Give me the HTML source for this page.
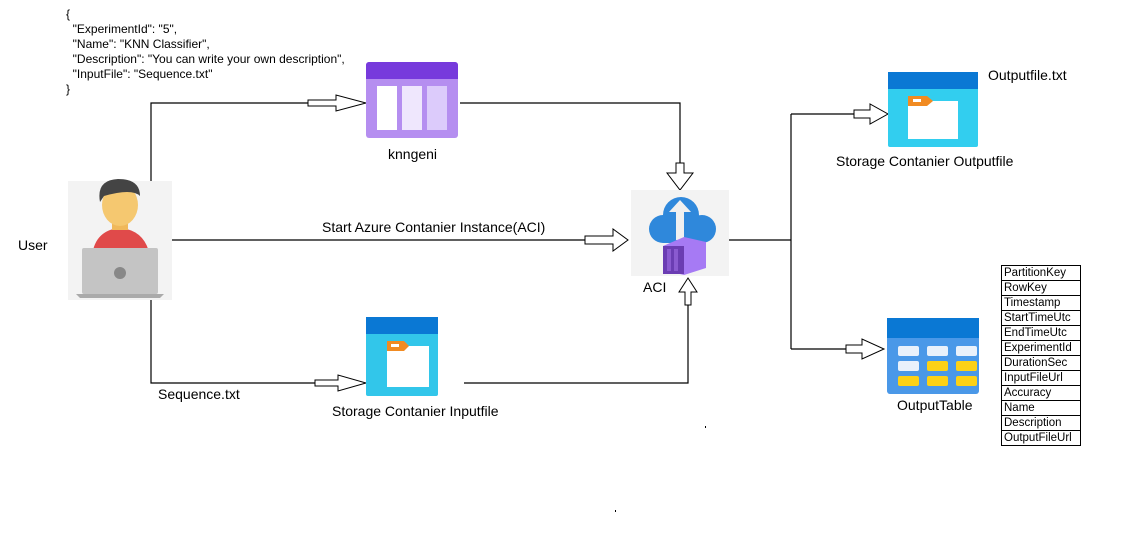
<!DOCTYPE html>
<html><head><meta charset="utf-8"><style>
body{margin:0;width:1130px;height:539px;background:#fff;position:relative;overflow:hidden;font-family:"Liberation Sans",sans-serif}
.t{position:absolute;white-space:nowrap;color:#000}
.json{font-size:12px;line-height:15px;left:66px;top:7px}
.lbl{font-size:14px}
table{position:absolute;left:1001px;top:265px;border-collapse:collapse;font-size:11.5px}
td{border:1px solid #000;height:14px;padding:0 2px;width:74px;line-height:14px}
</style></head><body>
<div class="t json">{<br>&nbsp;&nbsp;"ExperimentId": "5",<br>&nbsp;&nbsp;"Name": "KNN Classifier",<br>&nbsp;&nbsp;"Description": "You can write your own description",<br>&nbsp;&nbsp;"InputFile": "Sequence.txt"<br>}</div>
<svg width="1130" height="539" style="position:absolute;left:0;top:0">
<g stroke="#000" stroke-width="1.2" fill="none">
<polyline points="151,181 151,103 308,103"/>
<polyline points="460,103 680,103 680,163"/>
<line x1="172" y1="240" x2="585" y2="240"/>
<polyline points="151,300 151,383 315,383"/>
<polyline points="464,383 688,383 688,305"/>
<line x1="729" y1="240" x2="791" y2="240"/>
<line x1="791" y1="114" x2="791" y2="349"/>
<line x1="791" y1="114" x2="854" y2="114"/>
<line x1="791" y1="349" x2="846" y2="349"/>
</g>
<g stroke="#000" stroke-width="1" fill="#fff">
<polygon points="308,100 336,100 336,95 366,103 336,111 336,106 308,106"/>
<polygon points="585,236 613,236 613,229 628,240 613,251 613,244 585,244"/>
<polygon points="315,380 338,380 338,375 366,383 338,391 338,386 315,386"/>
<polygon points="854,110 870,110 870,104 888,114 870,124 870,118 854,118"/>
<polygon points="846,345 862,345 862,339 884,349 862,359 862,353 846,353"/>
<polygon points="676,163 684,163 684,173 693,173 680,190 667,173 676,173"/>
<polygon points="685,305 691,305 691,292 697,292 688,278 679,292 685,292"/>
</g>
<!-- user -->
<rect x="68" y="181" width="104" height="119" fill="#f3f3f3"/>
<path d="M92,256 Q95,230 120,228 Q145,230 150,256Z" fill="#e04a4a"/>
<rect x="112" y="212" width="16" height="18" fill="#f0b85a"/>
<ellipse cx="120" cy="205" rx="18" ry="21" fill="#f5c870"/>
<path d="M100,202 Q96,180 118,179 Q140,179 140,196 Q132,188 104,196Z" fill="#444"/>
<rect x="82" y="248" width="76" height="46" rx="2" fill="#c4c4c4"/>
<polygon points="76,294 164,294 160,298 80,298" fill="#aaa"/>
<circle cx="120" cy="273" r="6" fill="#888"/>
<!-- knngeni -->
<rect x="366" y="62" width="92" height="76" rx="3" fill="#b58ef0"/>
<path d="M366,79 V65 a3,3 0 0 1 3,-3 h86 a3,3 0 0 1 3,3 V79Z" fill="#773adc"/>
<rect x="377" y="86" width="20" height="44" fill="#fff"/>
<rect x="402" y="86" width="20" height="44" fill="#efe7fd"/>
<rect x="427" y="86" width="20" height="44" fill="#dccbfb"/>
<!-- ACI -->
<rect x="631" y="190" width="98" height="86" fill="#f3f3f3"/>
<g fill="#2f88db"><circle cx="681" cy="215" r="18"/><circle cx="663" cy="229" r="14"/><circle cx="702" cy="229" r="14"/><rect x="663" y="222" width="40" height="21"/></g>
<polygon points="676,240 676,212 669,212 680,200 691,212 684,212 684,240" fill="#f0f0f0"/>
<polygon points="663,246 684,237 706,242 706,268 684,275 663,270" fill="#a67af4"/>
<rect x="663" y="246" width="21" height="28" fill="#6b3db3"/>
<rect x="667" y="249" width="4" height="22" fill="#8a5ad0"/><rect x="674" y="249" width="4" height="22" fill="#8a5ad0"/>
<!-- storage input -->
<rect x="366" y="317" width="72" height="79" rx="2" fill="#32c6ea"/>
<rect x="366" y="317" width="72" height="17" fill="#0a78d4"/>
<rect x="387" y="346" width="42" height="41" fill="#fff"/>
<polygon points="387,341 404,341 409,346 404,351 387,351" fill="#f18b22"/>
<rect x="391" y="344" width="8" height="3" fill="#fff"/>
<!-- storage output -->
<rect x="888" y="72" width="90" height="75" rx="2" fill="#32ceef"/>
<rect x="888" y="72" width="90" height="17" fill="#0a78d4"/>
<rect x="908" y="101" width="50" height="38" fill="#fff"/>
<polygon points="908,96 927,96 933,101 927,106 908,106" fill="#f18b22"/>
<rect x="913" y="99" width="8" height="3" fill="#fff"/>
<!-- output table -->
<rect x="887" y="318" width="92" height="76" rx="3" fill="#4a98e8"/>
<rect x="887" y="318" width="92" height="20" fill="#0a78d4"/>
<g fill="#e9f1fb"><rect x="898" y="346" width="21" height="10" rx="2"/><rect x="927" y="346" width="21" height="10" rx="2"/><rect x="956" y="346" width="21" height="10" rx="2"/><rect x="898" y="361" width="21" height="10" rx="2"/></g>
<g fill="#fcd116"><rect x="927" y="361" width="21" height="10" rx="2"/><rect x="956" y="361" width="21" height="10" rx="2"/><rect x="898" y="376" width="21" height="10" rx="2"/><rect x="927" y="376" width="21" height="10" rx="2"/><rect x="956" y="376" width="21" height="10" rx="2"/></g>
<rect x="705" y="426" width="1" height="2" fill="#000"/><rect x="615" y="510" width="1" height="2" fill="#000"/>
</svg>
<div class="t lbl" style="left:388px;top:146px">knngeni</div>
<div class="t lbl" style="left:18px;top:237px">User</div>
<div class="t lbl" style="left:322px;top:219px">Start Azure Contanier Instance(ACI)</div>
<div class="t lbl" style="left:643px;top:279px">ACI</div>
<div class="t lbl" style="left:158px;top:386px">Sequence.txt</div>
<div class="t lbl" style="left:332px;top:403px">Storage Contanier Inputfile</div>
<div class="t lbl" style="left:988px;top:67px">Outputfile.txt</div>
<div class="t lbl" style="left:836px;top:153px">Storage Contanier Outputfile</div>
<div class="t lbl" style="left:897px;top:397px">OutputTable</div>
<table>
<tr><td>PartitionKey</td></tr><tr><td>RowKey</td></tr><tr><td>Timestamp</td></tr><tr><td>StartTimeUtc</td></tr><tr><td>EndTimeUtc</td></tr><tr><td>ExperimentId</td></tr><tr><td>DurationSec</td></tr><tr><td>InputFileUrl</td></tr><tr><td>Accuracy</td></tr><tr><td>Name</td></tr><tr><td>Description</td></tr><tr><td>OutputFileUrl</td></tr>
</table>
</body></html>
